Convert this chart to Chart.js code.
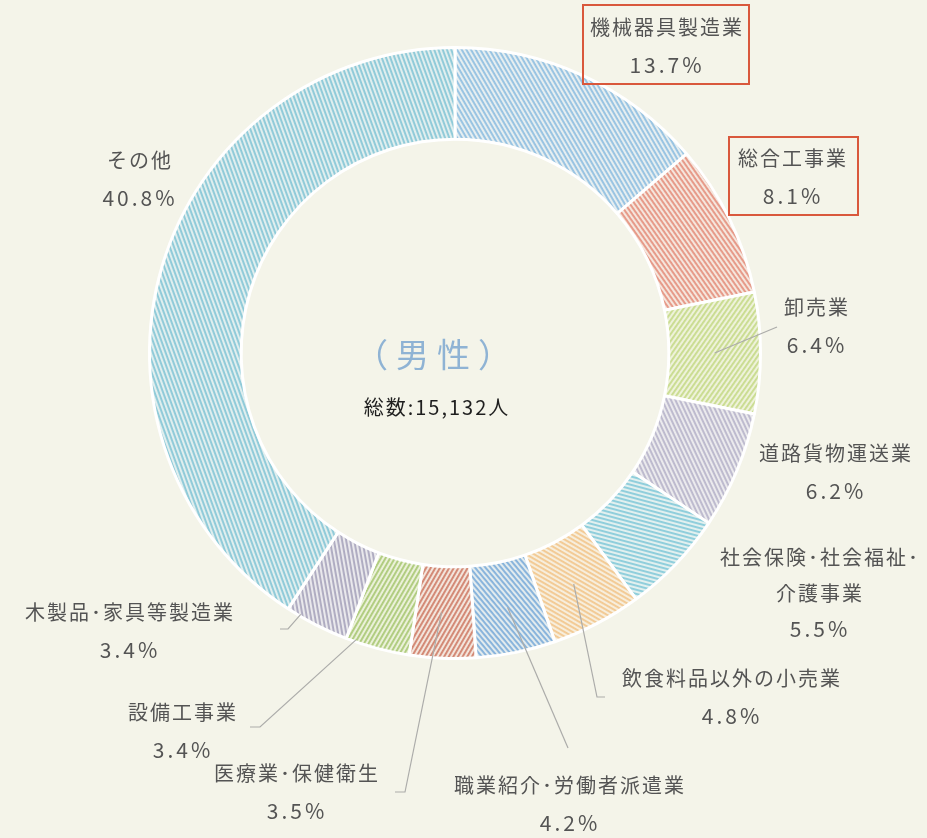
<!DOCTYPE html>
<html>
<head>
<meta charset="utf-8">
<script src="https://cdn.jsdelivr.net/npm/chart.js@4/dist/chart.umd.min.js"></script>
<style>
  html, body { margin: 0; padding: 0; background: #f4f4e9; }
  #wrap { width: 927px; height: 838px; position: relative; }
</style>
</head>
<body>
<div id="wrap"><canvas id="c"></canvas></div>
<script>
// ---- data ----
const categories = ['機械器具製造業', '総合工事業', '卸売業', '道路貨物運送業', '社会保険・社会福祉・介護事業',
  '飲食料品以外の小売業', '職業紹介・労働者派遣業', '医療業・保健衛生', '設備工事業', '木製品・家具等製造業', 'その他'];
const values = [13.7, 8.1, 6.4, 6.2, 5.5, 4.8, 4.2, 3.5, 3.4, 3.4, 40.8];
const labelLines = [['機械器具製造業'], ['総合工事業'], ['卸売業'], ['道路貨物運送業'], ['社会保険･社会福祉･', '介護事業'],
  ['飲食料品以外の小売業'], ['職業紹介･労働者派遣業'], ['医療業･保健衛生'], ['設備工事業'], ['木製品･家具等製造業'], ['その他']];
const centerTitle = '（男性）';
const centerTotal = '総数:15,132人';
const highlighted = [0, 1];

// ---- styles ----
const stripeColors = ['#96c2e2', '#e69786', '#c9dc90', '#bcb9cd', '#8ccddb', '#f2c993', '#85b2db', '#d28672', '#afcb7d', '#adaac0', '#8dc9d8'];
const baseColors   = ['#e6eef0', '#f5e6dd', '#eef2da', '#ebeaed', '#e2f0ef', '#f7eedc', '#e2ebee', '#f3e5dc', '#ebf1d9', '#e9e8ec', '#e0eeee'];
const stripeAngles = [60, 55, -55, 65, 15, 30, 50, -60, -60, 80, 70];

// label text anchor (center of first line) and leader targets on the canvas
const labelPos = [[667, 27], [793, 158], [817, 307], [836, 453], [820, 557], [732, 678], [570, 785], [297, 773], [183, 712], [130, 612], [140, 160]];
const leaders = {
  2: { t: 0.5, r: 'mid', to: [777, 327] },
  5: { t: 0.53, r: 'mid', to: [597, 697], tick: [605, 697] },
  6: { t: 0.49, r: 'mid', to: [568, 748] },
  7: { t: 0.55, r: 'mid', to: [405, 792], tick: [395, 792] },
  8: { t: 0.85, r: 'outer', to: [260, 727], tick: [250, 727] },
  9: { t: 0.79, r: 'outer', to: [288, 629], tick: [280, 629] }
};
const boxes = { 0: [583, 5, 166, 79], 1: [729, 137, 129, 78] };

const ctxTmp = document.getElementById('c').getContext('2d');
const patterns = stripeColors.map((s, i) => {
  const p = document.createElement('canvas');
  p.width = 4; p.height = 4;
  const g = p.getContext('2d');
  g.fillStyle = baseColors[i]; g.fillRect(0, 0, 4, 4);
  g.fillStyle = s; g.fillRect(0, 0, 4, 1.9);
  const pat = ctxTmp.createPattern(p, 'repeat');
  pat.setTransform(new DOMMatrix().rotate(stripeAngles[i]));
  return pat;
});

const FONT = '"Noto Sans CJK JP", "Noto Sans", sans-serif';

const labelPlugin = {
  id: 'labels',
  beforeDraw(chart) {
    const c = chart.ctx;
    c.save();
    c.fillStyle = '#f4f4e9';
    c.fillRect(0, 0, chart.width, chart.height);
    c.restore();
  },
  afterDraw(chart) {
    const c = chart.ctx;
    const meta = chart.getDatasetMeta(0);
    c.save();
    // leaders
    c.strokeStyle = '#acacaa';
    c.lineWidth = 1.2;
    Object.keys(leaders).forEach(k => {
      const L = leaders[k];
      const arc = meta.data[k];
      const pr = arc.getProps(['x', 'y', 'startAngle', 'endAngle', 'innerRadius', 'outerRadius'], true);
      const a = pr.startAngle + (pr.endAngle - pr.startAngle) * L.t;
      const r = L.r === 'mid' ? (pr.innerRadius + pr.outerRadius) / 2 : pr.outerRadius - 2;
      c.beginPath();
      c.moveTo(pr.x + Math.cos(a) * r, pr.y + Math.sin(a) * r);
      c.lineTo(L.to[0], L.to[1]);
      if (L.tick) c.lineTo(L.tick[0], L.tick[1]);
      c.stroke();
    });
    // labels
    c.textAlign = 'center';
    c.textBaseline = 'middle';
    c.fillStyle = '#545454';
    labelLines.forEach((lines, i) => {
      const [x, y] = labelPos[i];
      const gap = lines.length > 1 ? 36 : 38;
      c.font = '400 20px ' + FONT;
      c.letterSpacing = '2px';
      lines.forEach((ln, j) => c.fillText(ln, x, y + j * gap));
      c.font = '400 21px ' + FONT;
      c.letterSpacing = '3px';
      c.fillText(values[i].toFixed(1) + '%', x, y + lines.length * gap);
    });
    // highlight boxes
    c.strokeStyle = '#d9583c';
    c.lineWidth = 2;
    highlighted.forEach(i => { const b = boxes[i]; c.strokeRect(b[0], b[1], b[2], b[3]); });
    // center text
    const cx = meta.data[0].x, cy = meta.data[0].y;
    c.fillStyle = '#8fb3d4';
    c.letterSpacing = '8px';
    c.font = '400 33px ' + FONT;
    c.fillText(centerTitle, cx - 18, cy + 1);
    c.fillStyle = '#1e1e1e';
    c.font = '400 20px ' + FONT;
    c.letterSpacing = '2px';
    c.fillText(centerTotal, cx - 18, cy + 54);
    c.restore();
  }
};

new Chart(document.getElementById('c'), {
  type: 'doughnut',
  data: {
    labels: categories,
    datasets: [{
      data: values,
      backgroundColor: patterns,
      borderColor: '#ffffff',
      borderWidth: 3,
      borderAlign: 'center'
    }]
  },
  options: {
    responsive: true,
    maintainAspectRatio: false,
    animation: false,
    cutout: '70%',
    layout: { padding: { left: 148, right: 165, top: 43, bottom: 175 } },
    plugins: { legend: { display: false }, tooltip: { enabled: false } }
  },
  plugins: [labelPlugin]
});
</script>
</body>
</html>
